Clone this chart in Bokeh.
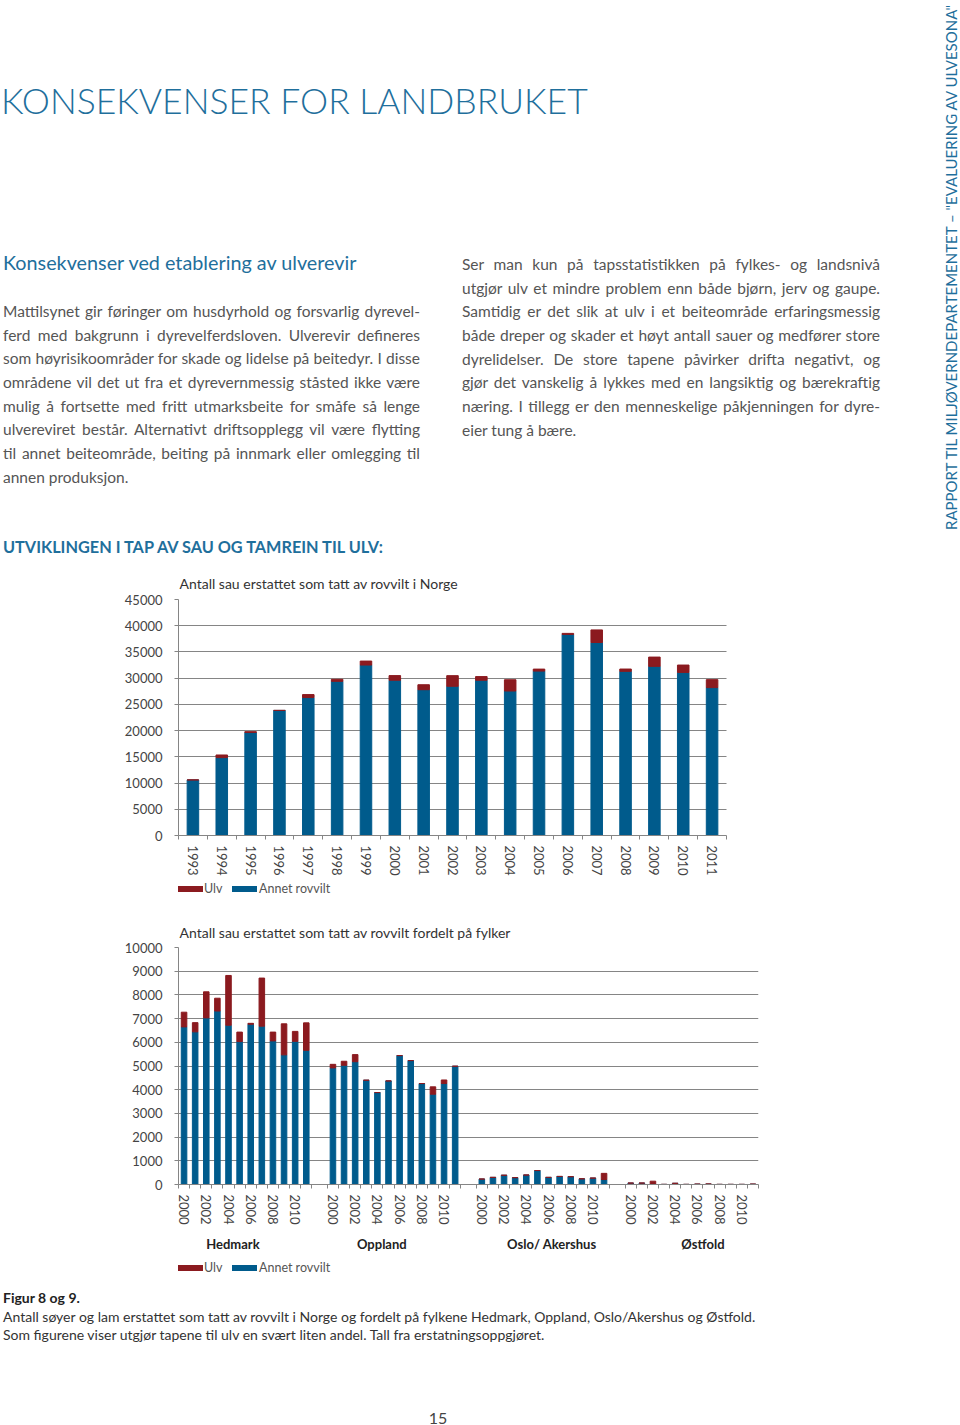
from bokeh.plotting import figure
from bokeh.models import (Div, FixedTicker, LinearAxis, ColumnDataSource, Range1d,
                          CustomJSTickFormatter)
from bokeh.layouts import column
from bokeh.embed import file_html
from bokeh.resources import INLINE

# ---------------- data: chart 1 (Norge) ----------------
years_norge = ["1993", "1994", "1995", "1996", "1997", "1998", "1999", "2000", "2001", "2002",
               "2003", "2004", "2005", "2006", "2007", "2008", "2009", "2010", "2011"]
norge_annet = [10600, 14850, 19650, 23850, 26300, 29400, 32500, 29600, 27800, 28450,
               29600, 27550, 31350, 38350, 36800, 31300, 32250, 31100, 28200]
norge_ulv = [0, 500, 150, 0, 570, 380, 760, 890, 950, 2030,
             700, 2150, 380, 190, 2400, 440, 1770, 1400, 1520]
norge_yticks = [0, 5000, 10000, 15000, 20000, 25000, 30000, 35000, 40000, 45000]

# ---------------- data: chart 2 (fylker) ----------------
regions = ["Hedmark", "Oppland", "Oslo/ Akershus", "Østfold"]
years_fylke = ["2000", "2001", "2002", "2003", "2004", "2005", "2006", "2007", "2008", "2009", "2010", "2011"]
labelled_years = ["2000", "2002", "2004", "2006", "2008", "2010"]
hedmark_annet = [6650, 6440, 7030, 7320, 6720, 6030, 6760, 6680, 6060, 5470, 6040, 5660]
hedmark_ulv = [620, 390, 1100, 540, 2100, 400, 40, 2030, 370, 1310, 420, 1160]
oppland_annet = [4920, 5030, 5180, 4400, 3880, 4370, 5440, 5230, 4260, 3810, 4260, 4990]
oppland_ulv = [150, 170, 300, 0, 0, 0, 0, 0, 0, 310, 150, 0]
oslo_annet = [230, 300, 390, 290, 400, 590, 300, 340, 330, 240, 270, 210]
oslo_ulv = [0, 0, 0, 0, 0, 0, 0, 0, 0, 0, 0, 260]
ostfold_annet = [60, 60, 15, 5, 50, 5, 15, 20, 5, 5, 5, 15]
ostfold_ulv = [0, 0, 125, 0, 0, 0, 0, 0, 0, 0, 0, 0]
fylke_yticks = [0, 1000, 2000, 3000, 4000, 5000, 6000, 7000, 8000, 9000, 10000]
series_names = ["Ulv", "Annet rovvilt"]

# ---------------- texts ----------------
page_title = "KONSEKVENSER FOR LANDBRUKET"
side_text = "RAPPORT TIL MILJØVERNDEPARTEMENTET \u2013 \"EVALUERING AV ULVESONA\""
sub_title = "Konsekvenser ved etablering av ulverevir"
left_lines = [
    "Mattilsynet gir føringer om husdyrhold og forsvarlig dyrevel-",
    "ferd med bakgrunn i dyrevelferdsloven. Ulverevir defineres",
    "som høyrisikoområder for skade og lidelse på beitedyr. I disse",
    "områdene vil det ut fra et dyrevernmessig ståsted ikke være",
    "mulig å fortsette med fritt utmarksbeite for småfe så lenge",
    "ulvereviret består. Alternativt driftsopplegg vil være flytting",
    "til annet beiteområde, beiting på innmark eller omlegging til",
    "annen produksjon.",
]
right_lines = [
    "Ser man kun på tapsstatistikken på fylkes- og landsnivå",
    "utgjør ulv et mindre problem enn både bjørn, jerv og gaupe.",
    "Samtidig er det slik at ulv i et beiteområde erfaringsmessig",
    "både dreper og skader et høyt antall sauer og medfører store",
    "dyrelidelser. De store tapene påvirker drifta negativt, og",
    "gjør det vanskelig å lykkes med en langsiktig og bærekraftig",
    "næring. I tillegg er den menneskelige påkjenningen for dyre-",
    "eier tung å bære.",
]
section_head = "UTVIKLINGEN I TAP AV SAU OG TAMREIN TIL ULV:"
chart1_title = "Antall sau erstattet som tatt av rovvilt i Norge"
chart2_title = "Antall sau erstattet som tatt av rovvilt fordelt på fylker"
caption_head = "Figur 8 og 9."
caption_lines = [
    "Antall søyer og lam erstattet som tatt av rovvilt i Norge og fordelt på fylkene Hedmark, Oppland, Oslo/Akershus og Østfold.",
    "Som figurene viser utgjør tapene til ulv en svært liten andel. Tall fra erstatningsoppgjøret.",
]
page_no = "15"

# ---------------- style ----------------
TEAL = "#1f6f9c"
BLUE = "#005b8c"
RED = "#8b1a1f"
GRID = "#858585"
TXT = "#555555"
FONT = "Lato"
SERIES_COLORS = [RED, BLUE]

BORDER_L = 178      # frame left (both charts)
BORDER_R = 186      # frame right border (both charts)
FIG_W = 944
FRAME_W = FIG_W - BORDER_L - BORDER_R
CHART1_DATA_W = 548  # chart 1 bars/grid occupy only this part of the frame
REGION_LABEL_SHIFT = [-11, -11, 8, 10]  # label nudges (x units) under each county group


def line_div(text, left, top, width, size, lh, color, extra=""):
    return (f'<div style="position:absolute;left:{left}px;top:{top}px;width:{width}px;'
            f'font-size:{size}px;line-height:{lh}px;color:{color};white-space:nowrap;{extra}">{text}</div>')


def box_div(inner, height):
    return Div(text=(f'<div style="position:relative;width:944px;height:{height}px;font-family:{FONT};">'
                     + inner + "</div>"), width=944, height=height)


def legend_div(center, height):
    # swatch + label pairs for the two series
    html = ""
    lefts = [(173, 199), (227, 254)]
    for (sl, tl), name, col in zip(lefts, series_names, SERIES_COLORS):
        html += (f'<div style="position:absolute;left:{sl}px;top:{center - 3}px;width:25px;height:6px;'
                 f'background:{col};"></div>')
        html += line_div(name, tl, center - 7, 120, 12.5, 14, "#555555")
    return box_div(html, height)


# ---------------- top text block ----------------
parts = []
parts.append(line_div(page_title, -4, 77, 700, 35.5, 38, TEAL, "font-weight:300;"))
parts.append(line_div(sub_title, -2, 245, 500, 19.8, 24, TEAL))
for k, t in enumerate(left_lines):
    last = k == len(left_lines) - 1
    al = "" if last else "text-align:justify;text-align-last:justify;"
    parts.append(line_div(t, -2, 295 + k * 23.65, 417, 15.5, 23.65, TXT, al))
for k, t in enumerate(right_lines):
    last = k == len(right_lines) - 1
    al = "" if last else "text-align:justify;text-align-last:justify;"
    parts.append(line_div(t, 457, 248 + k * 23.65, 418, 15.5, 23.65, TXT, al))
parts.append(line_div(section_head, -2, 532, 500, 16.3, 20, TEAL, "font-weight:bold;"))
parts.append(line_div(side_text, 938, 525, 523, 15, 16, TEAL,
                      "transform-origin:0 0;transform:rotate(-90deg);text-align:center;"))
top_div = box_div("".join(parts), 552)


# ---------------- helpers for charts ----------------
def make_fig(title, height, top, bottom, ymax, yticks, xmax, title_standoff):
    p = figure(width=FIG_W, height=height, output_backend="svg", toolbar_location=None,
               x_axis_type=None, x_range=Range1d(0, xmax), y_range=Range1d(0, ymax),
               min_border_top=top, min_border_bottom=bottom,
               min_border_left=BORDER_L, min_border_right=BORDER_R)
    p.title.text = title
    p.title.text_font = FONT
    p.title.text_font_size = "14px"
    p.title.text_font_style = "normal"
    p.title.text_color = "#333333"
    p.title.align = "left"
    p.title.offset = 1
    p.title.standoff = title_standoff
    p.outline_line_color = None
    p.background_fill_color = None
    p.border_fill_color = None
    ya = p.yaxis[0]
    ya.ticker = FixedTicker(ticks=yticks)
    ya.axis_line_color = GRID
    ya.major_tick_line_color = GRID
    ya.major_tick_out = 4
    ya.major_tick_in = 0
    ya.minor_tick_line_color = None
    ya.major_label_text_font = FONT
    ya.major_label_text_font_size = "13px"
    ya.major_label_text_color = "#444444"
    ya.major_label_standoff = 12
    p.ygrid.grid_line_color = GRID
    p.ygrid.grid_line_width = 1
    return p


def year_axis(labels, boundaries, centers_labelled):
    fmt = CustomJSTickFormatter(args=dict(pos=centers_labelled, names=labels),
                                code="const k = pos.indexOf(tick); return k >= 0 ? names[k] : '';")
    ax = LinearAxis(ticker=FixedTicker(ticks=centers_labelled, minor_ticks=boundaries), formatter=fmt)
    ax.axis_line_color = GRID
    ax.major_tick_line_color = None
    ax.minor_tick_line_color = GRID
    ax.minor_tick_out = 4
    ax.minor_tick_in = 0
    ax.major_label_orientation = "vertical"
    ax.major_label_standoff = 4
    ax.major_label_text_font = FONT
    ax.major_label_text_font_size = "13px"
    ax.major_label_text_color = "#444444"
    return ax


# ---------------- chart 1 ----------------
n1 = len(years_norge)
x1 = [i + 0.5 for i in range(n1)]
src1 = ColumnDataSource(dict(x=x1, annet=norge_annet, ulv=norge_ulv))
p1 = make_fig(chart1_title, 316, 37, 42, 45000, norge_yticks, n1 * FRAME_W / CHART1_DATA_W, 16)
p1.vbar_stack(["annet", "ulv"], x="x", width=0.4, color=[BLUE, RED], source=src1)
ax1 = year_axis(years_norge, list(range(n1 + 1)), x1)
ax1.bounds = (0, n1)
p1.add_layout(ax1, "below")
try:
    p1.ygrid.cross_bounds = (0, n1)
except Exception:
    p1.ygrid.visible = False
    p1.segment(x0=[0] * len(norge_yticks), x1=[n1] * len(norge_yticks),
               y0=norge_yticks, y1=norge_yticks, line_color=GRID, line_width=1)

# ---------------- chart 2 ----------------
SLOT = 10
GAP = 14
ng = len(years_fylke)
stride = ng * SLOT + GAP
annet_all = [hedmark_annet, oppland_annet, oslo_annet, ostfold_annet]
ulv_all = [hedmark_ulv, oppland_ulv, oslo_ulv, ostfold_ulv]
x2, a2, u2, bounds, lab_pos, lab_txt, centers = [], [], [], [], [], [], []
for g in range(len(regions)):
    base = g * stride
    for i, yr in enumerate(years_fylke):
        x2.append(base + i * SLOT + SLOT / 2)
        a2.append(annet_all[g][i])
        u2.append(ulv_all[g][i])
        if yr in labelled_years:
            lab_pos.append(base + i * SLOT + SLOT / 2)
            lab_txt.append(yr)
    bounds.extend(base + i * SLOT for i in range(ng + 1))
    centers.append(base + ng * SLOT / 2 + REGION_LABEL_SHIFT[g])
xmax2 = len(regions) * ng * SLOT + (len(regions) - 1) * GAP
src2 = ColumnDataSource(dict(x=x2, annet=a2, ulv=u2))
p2 = make_fig(chart2_title, 344, 34, 73, 10000, fylke_yticks, xmax2, 13)
p2.vbar_stack(["annet", "ulv"], x="x", width=SLOT * 0.5, color=[BLUE, RED], source=src2)
ax2 = year_axis(lab_txt, bounds, lab_pos)
p2.add_layout(ax2, "below")
rfmt = CustomJSTickFormatter(args=dict(pos=centers, names=regions),
                             code="const k = pos.indexOf(tick); return k >= 0 ? names[k] : '';")
rax = LinearAxis(ticker=FixedTicker(ticks=centers), formatter=rfmt)
rax.axis_line_color = None
rax.major_tick_line_color = None
rax.minor_tick_line_color = None
rax.major_label_standoff = 2
rax.major_label_text_font = FONT
rax.major_label_text_font_size = "13px"
rax.major_label_text_font_style = "bold"
rax.major_label_text_color = "#222222"
p2.add_layout(rax, "below")

# ---------------- caption ----------------
cparts = []
cparts.append(line_div(caption_head, -2, 4.5, 300, 14, 18, "#222222", "font-weight:bold;"))
for k, t in enumerate(caption_lines):
    cparts.append(line_div(t, -2, 23.5 + k * 18, 900, 14, 18, "#333333"))
cparts.append(line_div(page_no, 400, 123.5, 66, 16, 20, "#444444", "text-align:center;"))
cap_div = box_div("".join(cparts), 130)

layout = column(top_div, p1, legend_div(6, 25), p2, legend_div(6, 12), cap_div, spacing=0)
open("out.html", "w").write(file_html(layout, INLINE, title="Konsekvenser for landbruket"))
